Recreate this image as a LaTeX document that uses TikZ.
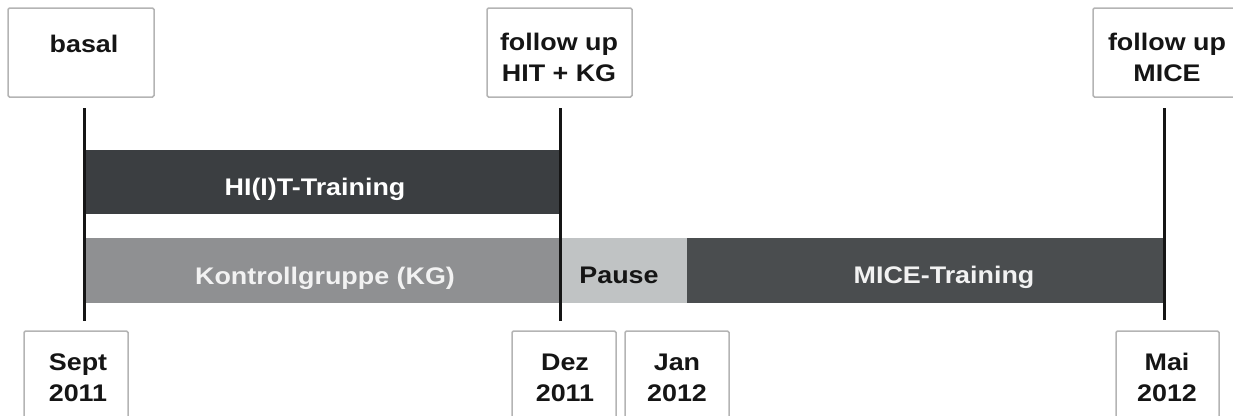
\documentclass[tikz,border=0pt]{standalone}
\usepackage{fontspec}
\setmainfont{Liberation Sans}[FakeStretch=1.12]
\definecolor{boxline}{HTML}{B4B4B4}
\definecolor{hitcol}{HTML}{3B3E41}
\definecolor{kgcol}{HTML}{8F9092}
\definecolor{pausecol}{HTML}{C0C3C4}
\definecolor{micecol}{HTML}{4A4D4F}
\definecolor{ink}{HTML}{151515}
\tikzset{
  datebox/.style={draw=boxline, line width=1.5pt, rounded corners=1.5pt, fill=white},
  lbl/.style={font=\fontsize{24}{31}\selectfont\bfseries, text=ink, inner sep=0pt, anchor=base},
  barlbl/.style={font=\fontsize{24}{31}\selectfont\bfseries, inner sep=0pt, anchor=base},
  bar/.style={draw=none, inner sep=0pt},
  tline/.style={draw=ink, line width=3pt},
}
\begin{document}
\begin{tikzpicture}[x=1pt,y=-1pt]
\useasboundingbox (0,0) rectangle (1233,415);
% bars
\path[fill=hitcol] (84,150) rectangle (560,214);
\path[fill=kgcol] (84,238) rectangle (560,303);
\path[fill=pausecol] (560,238) rectangle (687,303);
\path[fill=micecol] (687,238) rectangle (1164,303);
\node[barlbl, text=white] (hit) at (315,195) {HI(I)T-Training};
\node[barlbl, text=white!95!black] (kg) at (325,284) {Kontrollgruppe (KG)};
\node[barlbl, text=ink] (pause) at (619,283) {Pause};
\node[barlbl, text=white!95!black] (mice) at (944,283) {MICE-Training};
% top boxes
\draw[datebox] (8,8) rectangle (154,97);
\draw[datebox] (487,8) rectangle (632,97);
\draw[datebox] (1093,8) rectangle (1241,97);
\node[lbl] (tbasal) at (84,52) {basal};
\node[lbl] (tfu1) at (559,50) {follow up};
\node[lbl] (tfu2) at (559,81) {HIT + KG};
\node[lbl] (tfm1) at (1167,50) {follow up};
\node[lbl] (tfm2) at (1167,81) {MICE};
% bottom boxes
\draw[datebox] (24,331) rectangle (128,430);
\draw[datebox] (512,331) rectangle (616,430);
\draw[datebox] (625,331) rectangle (729,430);
\draw[datebox] (1116,331) rectangle (1219,430);
\node[lbl] (sept1) at (78,370) {Sept};
\node[lbl] (sept2) at (78,401) {2011};
\node[lbl] (dez1) at (565,370) {Dez};
\node[lbl] (dez2) at (565,401) {2011};
\node[lbl] (jan1) at (677,370) {Jan};
\node[lbl] (jan2) at (677,401) {2012};
\node[lbl] (mai1) at (1167,370) {Mai};
\node[lbl] (mai2) at (1167,401) {2012};
% time lines
\coordinate (a1) at (84,108); \coordinate (a2) at (84,321);
\coordinate (b1) at (560,108); \coordinate (b2) at (560,321);
\coordinate (c1) at (1164,108); \coordinate (c2) at (1164,320);
\draw[tline] (a1) -- (a2);
\draw[tline] (b1) -- (b2);
\draw[tline] (c1) -- (c2);
\end{tikzpicture}
\end{document}
